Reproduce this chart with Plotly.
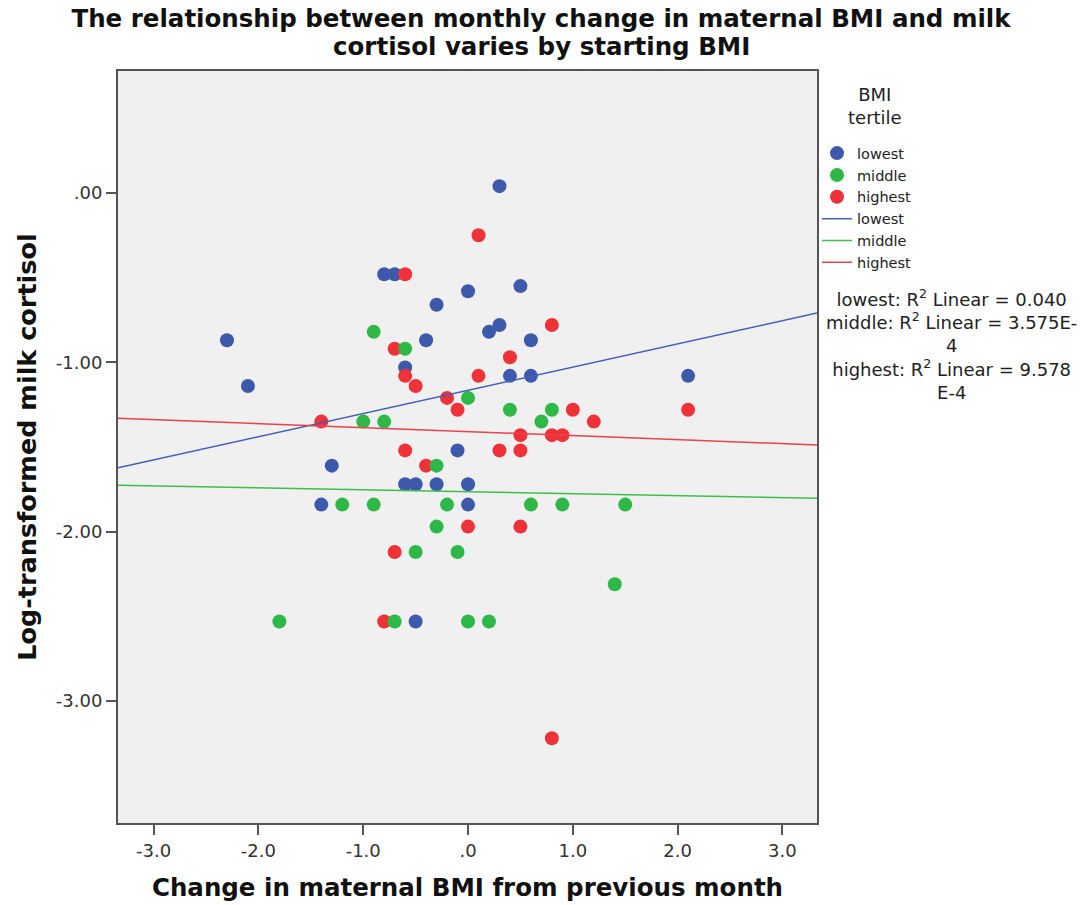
import numpy as np
import plotly.graph_objects as go

# ---------------- data ----------------
groups = ["lowest", "middle", "highest"]

lowest_x = [-2.3, -2.1, -1.4, -1.3, -0.8, -0.7, -0.6, -0.6, -0.5, -0.5, -0.4, -0.3, -0.3,
            -0.1, 0.0, 0.0, 0.0, 0.2, 0.3, 0.3, 0.4, 0.5, 0.6, 0.6, 2.1]
lowest_y = [-0.87, -1.14, -1.84, -1.61, -0.48, -0.48, -1.03, -1.72, -1.72, -2.53, -0.87, -0.66, -1.72,
            -1.52, -0.58, -1.72, -1.84, -0.82, 0.04, -0.78, -1.08, -0.55, -0.87, -1.08, -1.08]

middle_x = [-1.8, -1.2, -1.0, -0.9, -0.9, -0.8, -0.7, -0.6, -0.5, -0.3, -0.3, -0.2, -0.1,
            0.0, 0.0, 0.2, 0.4, 0.6, 0.7, 0.8, 0.9, 1.4, 1.5]
middle_y = [-2.53, -1.84, -1.35, -0.82, -1.84, -1.35, -2.53, -0.92, -2.12, -1.61, -1.97, -1.84, -2.12,
            -1.21, -2.53, -2.53, -1.28, -1.84, -1.35, -1.28, -1.84, -2.31, -1.84]

highest_x = [-1.4, -0.8, -0.7, -0.7, -0.6, -0.6, -0.6, -0.5, -0.4, -0.2, -0.1, 0.0, 0.1,
             0.1, 0.3, 0.4, 0.5, 0.5, 0.5, 0.8, 0.8, 0.8, 0.9, 1.0, 1.2, 2.1]
highest_y = [-1.35, -2.53, -0.92, -2.12, -0.48, -1.08, -1.52, -1.14, -1.61, -1.21, -1.28, -1.97, -0.25,
             -1.08, -1.52, -0.97, -1.43, -1.52, -1.97, -0.78, -1.43, -3.22, -1.43, -1.28, -1.35, -1.28]

# linear fit lines (intercept, slope) per tertile
fit_intercept = [-1.165, -1.764, -1.409]
fit_slope = [0.137, -0.0115, -0.0237]
r2_labels = ["lowest: R<sup>2</sup> Linear = 0.040",
             "middle: R<sup>2</sup> Linear = 3.575E-",
             "4",
             "highest: R<sup>2</sup> Linear = 9.578",
             "E-4"]
legend_title = "BMI<br>tertile"
title_lines = ["The relationship between monthly change in maternal BMI and milk",
               "cortisol varies by starting BMI"]

x_range = [-3.34, 3.33]
y_range = [-3.72, 0.72]
x_tickvals = [-3, -2, -1, 0, 1, 2, 3]
x_ticktext = ["-3.0", "-2.0", "-1.0", ".0", "1.0", "2.0", "3.0"]
y_tickvals = [0, -1, -2, -3]
y_ticktext = [".00", "-1.00", "-2.00", "-3.00"]

colors = {"lowest": "#3D59AB", "middle": "#2DB847", "highest": "#EE3238"}
line_colors = {"lowest": "#4560B8", "middle": "#3CC04C", "highest": "#EE414A"}

FONT = "DejaVu Sans"
W, H = 1090, 905

fig = go.Figure()

pts = {"lowest": (lowest_x, lowest_y), "middle": (middle_x, middle_y), "highest": (highest_x, highest_y)}
rank = {"lowest": 1, "middle": 2, "highest": 3}
for g in ["lowest", "highest", "middle"]:
    xs, ys = pts[g]
    fig.add_trace(go.Scatter(
        x=xs, y=ys, mode="markers", name=g, legendrank=rank[g],
        marker=dict(size=14, color=colors[g], line=dict(width=0)),
        hoverinfo="x+y"))

xl = np.array(x_range)
for i, g in enumerate(groups):
    fig.add_trace(go.Scatter(
        x=xl, y=fit_intercept[i] + fit_slope[i] * xl, mode="lines", name=g,
        legendrank=4 + i,
        line=dict(color=line_colors[g], width=1.5)))

fig.add_annotation(
    xref="paper", yref="paper", x=1.193, y=0.717, xanchor="center", yanchor="top",
    text="<br>".join(r2_labels), showarrow=False, align="center",
    font=dict(family=FONT, size=18, color="#222222"))

fig.add_annotation(
    xref="paper", yref="paper", x=1.083, y=0.953, xanchor="center", yanchor="middle",
    text=legend_title, showarrow=False, align="center",
    font=dict(family=FONT, size=18, color="#222222"))

# second title line (first line is the layout title)
fig.add_annotation(
    xref="paper", yref="paper", x=(541 - 118) / 699, y=1 + (71 - 46.5) / 752,
    xanchor="center", yanchor="middle", text=title_lines[1], showarrow=False,
    font=dict(family=FONT, size=24.5, color="#111111", weight="bold"))

fig.update_layout(
    width=W, height=H,
    margin=dict(l=118, r=273, t=71, b=82, autoexpand=False),
    paper_bgcolor="white", plot_bgcolor="#F0F0F0",
    title=dict(
        text=title_lines[0],
        x=541 / W, xanchor="center", y=1 - 18 / H, yanchor="middle",
        font=dict(family=FONT, size=24.5, color="#111111", weight="bold")),
    legend=dict(
        x=1.0, xanchor="left", y=0.912, yanchor="top",
        bgcolor="rgba(0,0,0,0)",
        font=dict(family=FONT, size=14.5, color="#222222"),
        tracegroupgap=0),
    showlegend=True,
)

fig.update_xaxes(
    range=x_range, tickvals=x_tickvals, ticktext=x_ticktext,
    showgrid=False, zeroline=False, automargin=False,
    showline=True, mirror=True, linecolor="#555555", linewidth=2,
    ticks="outside", ticklen=10, tickwidth=2, tickcolor="#555555",
    tickfont=dict(family=FONT, size=18, color="#333333"),
    title=dict(text="Change in maternal BMI from previous month", standoff=19,
               font=dict(family=FONT, size=24.5, color="#111111", weight="bold")))

fig.update_yaxes(
    range=y_range, tickvals=y_tickvals, ticktext=y_ticktext,
    showgrid=False, zeroline=False, automargin=False,
    showline=True, mirror=True, linecolor="#555555", linewidth=2,
    ticks="outside", ticklen=10, tickwidth=2, tickcolor="#555555",
    tickfont=dict(family=FONT, size=18, color="#333333"),
    title=dict(text="Log-transformed milk cortisol", standoff=12,
               font=dict(family=FONT, size=25.5, color="#111111", weight="bold")))

fig.write_html("out.html")
